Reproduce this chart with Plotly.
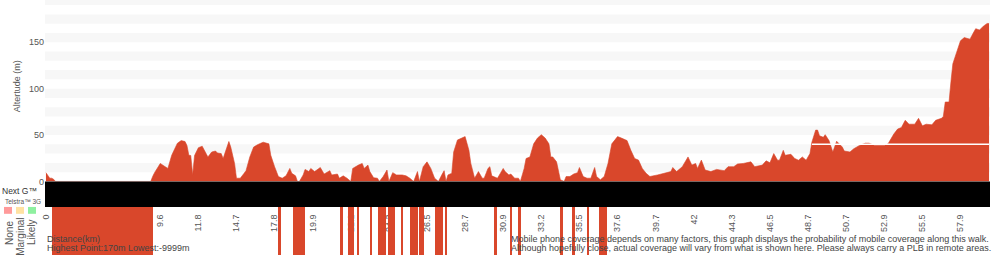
import plotly.graph_objects as go

# ---------------- data ----------------
# elevation profile: sample number along the walk and altitude (m)
sample_idx = [0, 2, 3, 4, 5, 55, 56, 57, 59, 60, 62, 64, 66, 68, 69, 71, 73, 74, 75, 76,
              77, 78, 80, 82, 83, 85, 87, 89, 90, 92, 93, 94, 96, 97, 99, 100, 102, 104, 105, 107,
              109, 111, 114, 117, 118, 120, 122, 124, 126, 128, 129, 131, 132, 133, 135, 136, 138, 139, 141, 144,
              146, 149, 150, 153, 154, 156, 158, 160, 161, 164, 166, 167, 169, 170, 172, 174, 175, 177, 179, 180,
              182, 184, 187, 189, 191, 193, 195, 196, 198, 200, 202, 204, 206, 208, 209, 210, 211, 213, 214, 216,
              219, 220, 222, 223, 225, 227, 229, 230, 232, 233, 234, 237, 238, 240, 241, 243, 244, 246, 248, 249,
              251, 252, 254, 256, 258, 260, 262, 264, 265, 266, 268, 269, 270, 272, 273, 275, 277, 279, 280, 282,
              284, 286, 288, 289, 291, 293, 295, 297, 300, 302, 305, 307, 309, 311, 313, 315, 317, 321, 324, 328,
              329, 331, 334, 335, 337, 339, 341, 342, 344, 346, 349, 352, 356, 358, 361, 363, 366, 370, 372, 376,
              378, 380, 382, 384, 385, 387, 388, 391, 393, 395, 397, 399, 401, 402, 404, 405, 406, 408, 409, 411,
              412, 413, 415, 418, 419, 422, 424, 427, 430, 432, 435, 440, 442, 445, 447, 449, 451, 453, 456, 458,
              460, 462, 465, 467, 470, 471, 472, 474, 475, 476, 478, 480, 482, 485, 487, 488, 490, 492, 494, 495]
altitude_m = [9.5, 3.5, 3.5, 2.4, 0, 0, 5.3, 9.5, 16, 19.4, 16.6, 14, 28.2, 37.7, 41.2, 44, 43, 38.8, 28.2, 28,
              7, 28, 36.3, 38, 33.5, 26.4, 31.7, 32.8, 30.7, 30, 24.7, 31.7, 43, 37, 19.4, 3.5, 3.5, 8.8, 11.6, 26.4,
              37, 39.5, 42.3, 40.5, 28.2, 15.9, 5.3, 3.5, 6, 14, 8.8, 6, 0, 0, 7, 13, 10.6, 14, 10.6, 15,
              8, 11.6, 7, 8, 3.5, 6, 3.5, 0, 14, 17.6, 19.4, 14, 17.6, 10.6, 4, 3.5, 0, 5.3, 12.3, 0,
              9.5, 7, 7, 6, 3.5, 0, 10.6, 0, 15.9, 21.1, 14, 3.5, 0, 8, 11.6, 0, 7, 8.8, 31.7, 44.7,
              46.8, 48.3, 33.5, 19.4, 3.5, 10.6, 3.5, 3.5, 14, 15.9, 6, 3.5, 7, 14, 10.6, 7, 8, 3.5, 3.5, 0,
              14, 24.7, 26.4, 40.5, 46.8, 50.4, 46.8, 40.5, 26.4, 26.4, 21.1, 12.3, 1.8, 0, 5.3, 5.3, 8, 9.5, 15, 5.3,
              3.5, 3.5, 15, 5.3, 1.8, 5.3, 19.4, 40.5, 48.3, 46.8, 44, 33.5, 24.7, 23, 14, 8.8, 5.3, 7, 8.8, 10.6,
              15, 10.6, 15.9, 19.4, 26.4, 17.6, 19.4, 14, 23, 12.3, 10.6, 13, 11.6, 15.9, 15.9, 18.8, 19.4, 21.1, 15.9, 17.6,
              22.2, 20.1, 30, 22.9, 22.9, 33.5, 28.2, 29.3, 24.7, 22.9, 26.4, 22.9, 30, 42.3, 55.3, 55.3, 49.3, 47.6, 50.4, 44,
              37, 31.7, 43.3, 37, 32.8, 31.7, 35.2, 38.8, 41.2, 41.2, 38.8, 38.8, 40.5, 51.1, 56.4, 58.1, 65.9, 61.7, 61.7, 68,
              59.9, 61.7, 61, 65.9, 68, 70, 85.6, 85.6, 107.5, 126.8, 139.2, 151.5, 155, 153.3, 161, 164.6, 163.1, 167.3, 170.2, 170.2]
assert len(sample_idx) == len(altitude_m)

# white level line drawn across the profile (sample range, altitude)
level_line_sample = [402, 495]
level_line_alt = [40, 40]

# distance labels (km) shown every 20 samples
tick_every = 20
tick_labels = ["0", "3.2", "6.4", "9.6", "11.8", "14.7", "17.8", "19.9", "22.1", "24.3",
               "26.5", "28.7", "30.9", "33.2", "35.5", "37.6", "39.7", "42", "44.3", "46.5",
               "48.7", "50.7", "52.9", "55.5", "57.9"]

# Next G coverage: unknown over the whole walk (first / last sample)
nextg_unknown_first = [0]
nextg_unknown_last = [495]

# Telstra 3G "None" coverage segments (sample edges)
g3_none_start = [3, 122, 129.5, 154.3, 158.4, 163.4, 170.1, 174.1, 179.7, 186.4, 191.1,
                 196, 204.2, 209.4, 235.2, 243.6, 247.9, 269.8, 276.3, 283.8, 290.3]
g3_none_end = [56, 123.5, 136, 155.7, 161.7, 164.5, 171.1, 178.3, 183.4, 187.6, 195.4,
               198.4, 208.6, 210.7, 236.6, 244.8, 249.2, 271.6, 277.8, 285.2, 294.3]

highest_m = 170
lowest_m = -9999

# ---------------- styling / layout ----------------
W, H = 1000, 260
ML, MR = 45, 10
RED = "#d9472b"
TXT = "#555555"
FONT = "Liberation Sans, Arial, Helvetica, sans-serif"


def px_x(px):
    return (px - ML) / (W - ML - MR)


def px_y(py):
    return 1 - py / H


n_samples = sample_idx[-1] + 1
x_range = [-0.5, n_samples - 0.5]
y_top = 195.5

fig = go.Figure()

fig.add_trace(go.Scatter(
    x=sample_idx, y=altitude_m, mode="lines", fill="tozeroy",
    line=dict(color=RED, width=0.6), fillcolor=RED,
    xaxis="x", yaxis="y", hoverinfo="skip", showlegend=False))

fig.add_trace(go.Scatter(
    x=level_line_sample, y=level_line_alt, mode="lines",
    line=dict(color="white", width=1.5),
    xaxis="x", yaxis="y", hoverinfo="skip", showlegend=False))

# Next G band
ng_l = [a - 0.5 for a in nextg_unknown_first]
ng_r = [b + 0.5 for b in nextg_unknown_last]
fig.add_trace(go.Bar(
    x=[(a + b) / 2 for a, b in zip(ng_l, ng_r)],
    width=[b - a for a, b in zip(ng_l, ng_r)],
    y=[1] * len(ng_l), base=0,
    marker=dict(color="black", line=dict(width=0)),
    xaxis="x2", yaxis="y2", hoverinfo="skip", showlegend=False))

# 3G none band
fig.add_trace(go.Bar(
    x=[(a + b) / 2 for a, b in zip(g3_none_start, g3_none_end)],
    width=[b - a for a, b in zip(g3_none_start, g3_none_end)],
    y=[1] * len(g3_none_start), base=0,
    marker=dict(color=RED, line=dict(width=0)),
    xaxis="x3", yaxis="y3", hoverinfo="skip", showlegend=False))

# background stripes
shapes = []
y0 = 10
while y0 < y_top:
    shapes.append(dict(type="rect", xref="x domain", yref="y", x0=0, x1=1,
                       y0=y0, y1=min(y0 + 10, y_top), fillcolor="#f7f7f7",
                       line=dict(width=0), layer="below"))
    y0 += 20

# legend colour squares
for cx, col in [(8, "#ff9a9a"), (20, "#ffe2a2"), (32, "#8ff0a0")]:
    shapes.append(dict(type="rect", xref="paper", yref="paper",
                       x0=px_x(cx - 4), x1=px_x(cx + 4), y0=px_y(218), y1=px_y(211),
                       fillcolor=col, line=dict(width=0), layer="above"))

annotations = [
    dict(text="Altertude (m)", x=px_x(17), y=px_y(88), textangle=-90,
         font=dict(size=9, color=TXT)),
    dict(text="Next G™", x=px_x(0), y=px_y(194.5), xanchor="left",
         font=dict(size=8.5, color="#333333")),
    dict(text="Telstra™ 3G", x=px_x(3), y=px_y(205), xanchor="left",
         font=dict(size=6.5, color=TXT)),
    dict(text="None", x=px_x(10), y=px_y(237.5), textangle=-90,
         font=dict(size=10, color=TXT)),
    dict(text="Marginal", x=px_x(21), y=px_y(241.5), textangle=-90,
         font=dict(size=10, color=TXT)),
    dict(text="Likely", x=px_x(32), y=px_y(236.5), textangle=-90,
         font=dict(size=10, color=TXT)),
    dict(text="Distance(km)", x=px_x(45), y=px_y(244), xanchor="left",
         font=dict(size=9, color="#444444")),
    dict(text=f"Highest Point:{highest_m}m Lowest:{lowest_m}m", x=px_x(45), y=px_y(252.5),
         xanchor="left", font=dict(size=9, color="#444444")),
    dict(text="Mobile phone coverage depends on many factors, this graph displays the probability of mobile coverage along this walk.",
         x=px_x(509), y=px_y(244), xanchor="left", font=dict(size=9, color="#444444")),
    dict(text="Although hopefully close, actual coverage will vary from what is shown here. Please always carry a PLB in remote areas.",
         x=px_x(509), y=px_y(252.5), xanchor="left", font=dict(size=9, color="#444444")),
]
for a in annotations:
    a.setdefault("xref", "paper")
    a.setdefault("yref", "paper")
    a.setdefault("showarrow", False)
    a.setdefault("xanchor", "center")
    a.setdefault("yanchor", "middle")

fig.update_layout(
    width=W, height=H,
    margin=dict(l=ML, r=MR, t=0, b=0, pad=0),
    paper_bgcolor="white", plot_bgcolor="white",
    font=dict(family=FONT, size=9, color=TXT),
    showlegend=False,
    xaxis=dict(domain=[0, 1], range=x_range, anchor="y", visible=False),
    yaxis=dict(domain=[px_y(185), 1], range=[0, y_top], anchor="x",
               tickvals=[0, 50, 100, 150], showgrid=False, zeroline=False,
               showline=False, ticks="", tickfont=dict(size=9, color=TXT)),
    xaxis2=dict(domain=[0, 1], range=x_range, anchor="y2",
                tickvals=[i * tick_every for i in range(len(tick_labels))],
                ticktext=tick_labels, tickangle=-90, showgrid=False, zeroline=False,
                showline=False, ticks="outside", ticklen=3, tickcolor="rgba(0,0,0,0)",
                tickfont=dict(size=9, color=TXT)),
    yaxis2=dict(domain=[px_y(211), px_y(185)], range=[0, 1], anchor="x2", visible=False),
    xaxis3=dict(domain=[0, 1], range=x_range, anchor="y3", visible=False),
    yaxis3=dict(domain=[0, px_y(211)], range=[0, 1], anchor="x3", visible=False),
    shapes=shapes,
    annotations=annotations,
    bargap=0,
)

fig.write_html("out.html")
